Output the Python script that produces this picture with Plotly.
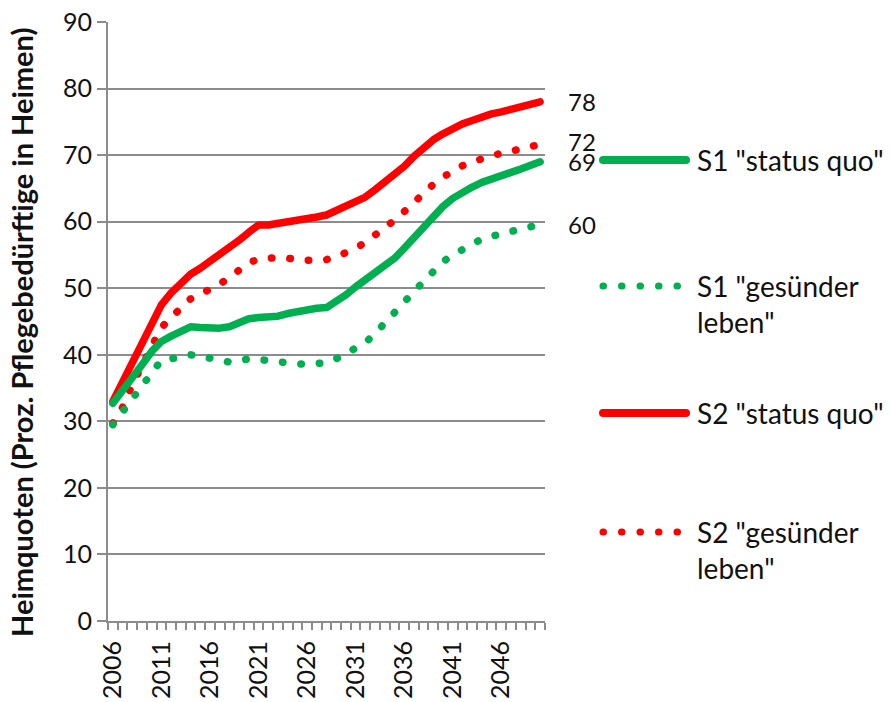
import plotly.graph_objects as go

years = list(range(2006, 2051))

s1_status_quo = [32.7, 34.5, 36.5, 38.5, 40.5, 42.0, 42.8, 43.6, 44.2, 44.1,
                 44.0, 44.0, 44.2, 44.9, 45.4, 45.6, 45.7, 45.8, 46.2, 46.5,
                 46.8, 47.0, 47.1, 48.0, 49.0, 50.2, 51.3, 52.4, 53.5, 54.5,
                 56.0, 57.6, 59.2, 60.8, 62.3, 63.5, 64.5, 65.2, 65.9, 66.5,
                 66.9, 67.4, 67.9, 68.5, 69.0]
s1_gesuender = [29.5, 31.5, 33.2, 35.2, 37.3, 39.2, 39.4, 39.7, 40.0, 39.8,
                39.5, 39.1, 38.9, 39.1, 39.4, 39.3, 39.1, 38.9, 38.7, 38.6,
                38.6, 38.6, 38.8, 39.4, 40.2, 41.0, 41.8, 43.2, 44.9, 46.3,
                47.9, 49.5, 51.1, 52.6, 54.0, 55.0, 55.9, 56.7, 57.4, 57.8,
                58.2, 58.6, 58.9, 59.3, 59.6]
s2_status_quo = [33.0, 36.0, 39.0, 42.0, 45.0, 47.5, 49.3, 50.8, 52.1, 53.0,
                 54.0, 55.0, 56.1, 57.2, 58.4, 59.5, 59.5, 59.7, 60.0, 60.2,
                 60.4, 60.7, 61.0, 61.6, 62.2, 62.8, 63.7, 64.8, 65.9, 67.0,
                 68.3, 69.8, 71.2, 72.3, 73.2, 74.0, 74.7, 75.2, 75.8, 76.2,
                 76.5, 76.9, 77.3, 77.7, 78.0]
s2_gesuender = [29.7, 32.1, 35.5, 38.3, 41.6, 44.1, 45.6, 47.0, 48.4, 49.1,
                49.8, 50.6, 51.6, 52.6, 53.8, 54.4, 54.6, 54.6, 54.5, 54.3,
                54.2, 54.2, 54.3, 54.7, 55.3, 56.0, 56.9, 57.9, 59.0, 60.2,
                61.5, 62.9, 64.3, 65.6, 66.7, 67.6, 68.4, 69.0, 69.5, 69.9,
                70.3, 70.6, 70.9, 71.2, 71.6]

series_names = ['S1 "status quo"', 'S1 "gesünder<br>leben"',
                'S2 "status quo"', 'S2 "gesünder<br>leben"']
series_values = [s1_status_quo, s1_gesuender, s2_status_quo, s2_gesuender]
series_colors = ["#00B050", "#00B050", "#FF0000", "#FF0000"]
series_dotted = [False, True, False, True]

x_tick_vals = list(range(2006, 2050, 5))
y_tick_vals = list(range(0, 100, 10))
y_title = "Heimquoten (Proz. Pflegebedürftige in Heimen)"

FONT = "Lato, 'Open Sans', sans-serif"
GRID = "#8c8c8c"
DOT = "0.5px,18px"

fig = go.Figure()
order = [3, 2, 1, 0]
for i in order:
    fig.add_trace(go.Scatter(
        x=years, y=series_values[i], mode="lines",
        name=series_names[i].replace("<br>", " "),
        line=dict(color=series_colors[i], width=7.5 if series_dotted[i] else 7.5,
                  dash=DOT if series_dotted[i] else "solid"),
        showlegend=False, hoverinfo="x+y"))

# end value labels
for i in range(4):
    fig.add_annotation(x=years[-1], y=series_values[i][-1],
                       text=f"{round(series_values[i][-1]):d}",
                       xref="x", yref="y", xanchor="left", yanchor="middle",
                       xshift=26, yshift=3 if i == 3 else 0, showarrow=False,
                       font=dict(family=FONT, size=24, color="#111"))

# manual legend
L_X0, L_X1, L_TX = 603, 686, 695
PL, PW, PT, PH = 108, 437, 22, 599
leg_y = [160, 286, 413, 532]
def px2x(p):
    return (p - PL) / PW
def py2y(p):
    return (PT + PH - p) / PH
for i in range(4):
    fig.add_shape(type="line", xref="paper", yref="paper",
                  x0=px2x(L_X0), x1=px2x(L_X1), y0=py2y(leg_y[i]), y1=py2y(leg_y[i]),
                  line=dict(color=series_colors[i], width=7 if series_dotted[i] else 8,
                            dash=DOT if series_dotted[i] else "solid"))
    two = "<br>" in series_names[i]
    fig.add_annotation(x=px2x(L_TX), y=py2y(leg_y[i]), xref="paper", yref="paper",
                       text=series_names[i], align="left", xanchor="left",
                       yanchor="top" if two else "middle",
                       yshift=19 if two else 0, showarrow=False,
                       font=dict(family=FONT, size=28, color="#111"))

# y axis title
fig.add_annotation(x=px2x(22), y=py2y(333), xref="paper", yref="paper",
                   text=f"<b>{y_title}</b>", textangle=-90, showarrow=False,
                   xanchor="center", yanchor="middle",
                   font=dict(family=FONT, size=29, color="#111"))

fig.update_layout(
    template="none",
    width=891, height=702,
    margin=dict(l=PL, r=891 - PL - PW, t=PT, b=702 - PT - PH, autoexpand=False),
    paper_bgcolor="white", plot_bgcolor="white",
    font=dict(family=FONT, size=24, color="#111"),
    xaxis=dict(range=[2005.5, 2050.5], tickvals=x_tick_vals, tickangle=-90,
               automargin=False,
               ticks="outside", ticklen=8, tickcolor="rgba(0,0,0,0)",
               showline=True, linecolor=GRID, linewidth=2, showgrid=False,
               zeroline=False, tickfont=dict(family=FONT, size=25, color="#111"),
               minor=dict(tick0=2005.5, dtick=1, ticks="outside", ticklen=7,
                          tickcolor=GRID, tickwidth=1.5, showgrid=False)),
    yaxis=dict(range=[0, 90], tickvals=y_tick_vals, ticks="outside", ticklen=9,
               automargin=False,
               tickcolor=GRID, tickwidth=2, showline=True, linecolor=GRID,
               linewidth=2, showgrid=True, gridcolor=GRID, gridwidth=2,
               zeroline=False, tickfont=dict(family=FONT, size=25, color="#111")),
)

post = """
document.body.style.margin = '0';
document.body.style.overflow = 'hidden';
var gd = document.getElementById('{plot_id}');
function rc(){ gd.querySelectorAll('path.js-line, .shapelayer path').forEach(function(p){ p.style.strokeLinecap='round'; p.style.strokeLinejoin='round'; }); }
rc(); if (gd.on) { gd.on('plotly_afterplot', rc); }
"""
fig.write_html("out.html", post_script=post, config={"displayModeBar": False})
